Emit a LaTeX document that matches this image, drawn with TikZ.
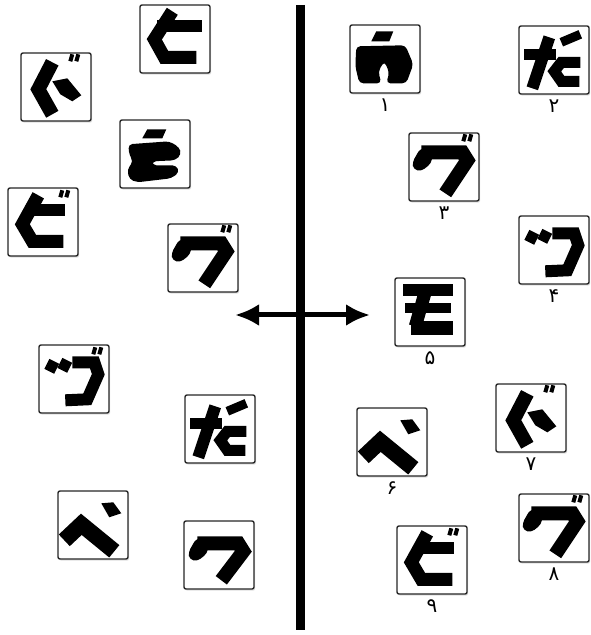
\documentclass[tikz,border=0pt]{standalone}
\usepackage{fontspec}
\newfontfamily\arabicfont[Script=Arabic]{DejaVu Sans}
\TeXXeTstate=1
\usetikzlibrary{arrows.meta,positioning,shadows}

\tikzset{
  tile/.style={draw=black!85, line width=0.7pt, fill=white, rounded corners=1pt,
    minimum width=35pt, minimum height=34pt, inner sep=0pt,
    drop shadow={shadow xshift=0.6pt, shadow yshift=-0.8pt, opacity=0.25}},
  digit/.style={font=\arabicfont\fontsize{10}{12}\selectfont, inner sep=0.5pt},
  gstroke/.style={black, line width=#1, line join=miter, miter limit=4},
  gstroke/.default=5pt,
  % small double mark
  dakuten/.pic={\draw[gstroke=2pt] (0,7) -- (2,0) (6,7) -- (8,0);},
  glyph hi/.pic={
    \draw[gstroke=6.5pt] (33,7) -- (15,35) -- (25,53) -- (57,53);
    \draw[gstroke=6pt] (18,22) -- (63,22);},
  glyph bi/.pic={
    \draw[gstroke=6.5pt] (31,8) -- (15,37) -- (25,54) -- (56,54);
    \draw[gstroke=6pt] (21,23) -- (58,23);
    \pic at (53,3) {dakuten};},
  glyph gu/.pic={
    \draw[gstroke=7pt] (32,10) -- (18,37) -- (32,62);
    \fill (32,29) -- (47,26) -- (61,43) -- (52,49) -- (40,42) -- cycle;
    \pic at (50,2) {dakuten};},
  glyph u/.pic={
    \fill[rounded corners=2pt] (5,32) -- (13,18) -- (26,19) -- (24,33) -- (14,41) -- (6,39) -- cycle;
    \draw[gstroke=7pt] (14,23) -- (55,23) -- (60,31) -- (38,60);},
  glyph vu/.pic={
    \fill[rounded corners=2pt] (4,30) -- (12,16) -- (25,17) -- (23,31) -- (13,39) -- (5,37) -- cycle;
    \draw[gstroke=7pt] (13,20) -- (54,20) -- (59,28) -- (37,61);
    \pic at (55,2) {dakuten};},
  glyph five/.pic={
    \draw[gstroke=5.5pt] (11,27) -- (16,17);
    \draw[gstroke=5.5pt] (24,26) -- (29,16);
    \draw[gstroke=6pt] (34,18) -- (56,18) -- (60,30) -- (49,55) -- (27,56);},
  glyph ze/.pic={
    \draw[gstroke=4.5pt] (43,17) -- (62,9);
    \draw[gstroke=5.5pt] (6,29) -- (38,29);
    \draw[gstroke=6pt] (31,12) -- (14,63);
    \draw[gstroke=5.5pt] (62,37) -- (43,37) -- (36,46) -- (43,56) -- (61,56);},
  glyph he/.pic={
    \draw[gstroke=8pt] (7,50) -- (24,34) -- (57,61);
    \fill (44,13) -- (56,12) -- (64,23) -- (52,27) -- cycle;},
  glyph mo/.pic={
    \draw[gstroke=6pt] (9,13) -- (59,13);
    \draw[gstroke=5pt] (11,31) -- (57,31);
    \draw[gstroke=6.5pt] (32,11) -- (21,49);
    \draw[gstroke=7pt] (17,51) -- (59,51);},
  glyph wa/.pic={
    \fill (27,7) -- (44,7) -- (40,17) -- (22,17) -- cycle;
    \fill[rounded corners=2pt] (7,22) -- (56,21) -- (64,40) -- (57,59) -- (37,59)
      -- (40,48) -- (35,37) -- (29,47) -- (32,59) -- (10,59) -- (6,42) -- cycle;},
  glyph wa turned/.pic={
    \fill (28,10) -- (47,10) -- (43,19) -- (23,19) -- cycle;
    \fill[rounded corners=2pt] (9,25) -- (50,22) -- (60,28) -- (62,35) -- (56,41)
      -- (33,42) -- (33,46) -- (57,46) -- (60,53) -- (52,59) -- (18,63) -- (10,60)
      -- (8,50) -- (14,42) -- (10,36) -- cycle;},
}

\begin{document}
\begin{tikzpicture}[x=0.5pt, y=-0.5pt]
  \useasboundingbox (0,0) rectangle (590,635);
  % axis and double arrow
  \coordinate (top) at (300,5);
  \coordinate (bottom) at (300,630);
  \coordinate (west) at (235,315);
  \coordinate (east) at (370,315);
  \draw[line width=4.5pt] (top) -- (bottom);
  \draw[line width=2.5pt, {Latex[length=12pt,width=11pt]}-{Latex[length=12pt,width=11pt]}] (west) -- (east);

  % left tiles
  \node[tile] (l1) at (175,39) {};
  \node[tile] (l2) at (56,87) {};
  \node[tile] (l3) at (155,154) {};
  \node[tile] (l4) at (43,222) {};
  \node[tile] (l5) at (203,258) {};
  \node[tile] (l6) at (74,379) {};
  \node[tile] (l7) at (220,429) {};
  \node[tile] (l8) at (93,525) {};
  \node[tile] (l9) at (219,555) {};
  \pic at (l1.north west) {glyph hi};
  \pic at (l2.north west) {glyph gu};
  \pic at (l3.north west) {glyph wa turned};
  \pic at (l4.north west) {glyph bi};
  \pic at (l5.north west) {glyph vu};
  \pic at (l6.north west) {glyph five};
  \pic at ([shift={(55,3)}]l6.north west) {dakuten};
  \pic at (l7.north west) {glyph ze};
  \pic at (l8.north west) {glyph he};
  \pic at (l9.north west) {glyph u};

  % right tiles, numbered
  \node[tile] (r1) at (385,59) {};
  \node[tile] (r2) at (554,60) {};
  \node[tile] (r3) at (444,167) {};
  \node[tile] (r4) at (554,250) {};
  \node[tile] (r5) at (430,312) {};
  \node[tile] (r6) at (392,442) {};
  \node[tile] (r7) at (531,418) {};
  \node[tile] (r8) at (554,528) {};
  \node[tile] (r9) at (432,560) {};
  \pic at (r1.north west) {glyph wa};
  \pic at (r2.north west) {glyph ze};
  \pic at (r3.north west) {glyph vu};
  \pic at (r4.north west) {glyph five};
  \pic at (r5.north west) {glyph mo};
  \pic at (r6.north west) {glyph he};
  \pic at (r7.north west) {glyph gu};
  \pic at (r8.north west) {glyph vu};
  \pic at (r9.north west) {glyph bi};
  \node[digit, below=2pt of r1] (d1) {\beginR ۱\endR};
  \node[digit, below=2pt of r2] (d2) {\beginR ۲\endR};
  \node[digit, below=2pt of r3] (d3) {\beginR ۳\endR};
  \node[digit, below=2pt of r4] (d4) {\beginR ۴\endR};
  \node[digit, below=2pt of r5] (d5) {\beginR ۵\endR};
  \node[digit, below=2pt of r6] (d6) {\beginR ۶\endR};
  \node[digit, below=2pt of r7] (d7) {\beginR ۷\endR};
  \node[digit, below=2pt of r8] (d8) {\beginR ۸\endR};
  \node[digit, below=2pt of r9] (d9) {\beginR ۹\endR};
\end{tikzpicture}
\end{document}
